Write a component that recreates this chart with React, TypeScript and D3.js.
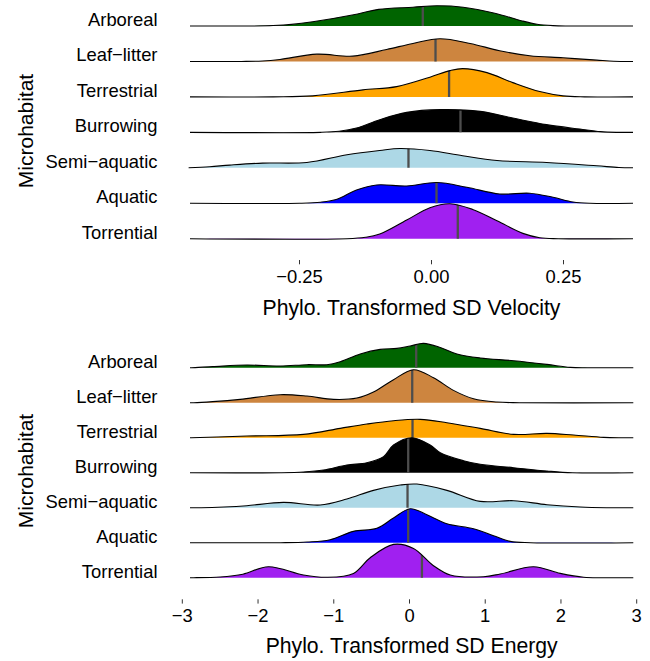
import React from "react";
import * as d3 from "d3";

const categories = ["Arboreal", "Leaf−litter", "Terrestrial", "Burrowing", "Semi−aquatic", "Aquatic", "Torrential"];
const fills = ["#006400", "#CD853F", "#FFA500", "#000000", "#ADD8E6", "#0000FF", "#A020F0"];

// Velocity ridges: [x, relative density height]
const velArboreal = [[-0.34, 0], [-0.3, 0.012], [-0.265, 0.045], [-0.225, 0.12], [-0.14, 0.34], [-0.1, 0.47], [-0.035, 0.53], [0.01, 0.57], [0.06, 0.53], [0.12, 0.36], [0.17, 0.15], [0.2, 0.05], [0.23, 0.01], [0.26, 0]];
const velLeafLitter = [[-0.36, 0], [-0.32, 0.012], [-0.287, 0.056], [-0.217, 0.206], [-0.149, 0.15], [-0.085, 0.339], [-0.035, 0.508], [0.016, 0.64], [0.073, 0.508], [0.129, 0.302], [0.186, 0.161], [0.249, 0.104], [0.313, 0.037], [0.345, 0.005], [0.36, 0]];
const velTerrestrial = [[-0.3, 0], [-0.225, 0.028], [-0.13, 0.197], [-0.066, 0.29], [-0.003, 0.556], [0.035, 0.742], [0.059, 0.798], [0.105, 0.685], [0.154, 0.403], [0.205, 0.15], [0.249, 0.028], [0.29, 0]];
const velBurrowing = [[-0.21, 0], [-0.175, 0.03], [-0.142, 0.121], [-0.098, 0.358], [-0.047, 0.564], [0.016, 0.64], [0.092, 0.592], [0.154, 0.403], [0.218, 0.217], [0.281, 0.093], [0.32, 0.02], [0.35, 0]];
const velSemiAquatic = [[-0.46, 0], [-0.42, 0.03], [-0.382, 0.076], [-0.32, 0.133], [-0.236, 0.15], [-0.16, 0.367], [-0.098, 0.488], [-0.06, 0.544], [-0.003, 0.488], [0.059, 0.339], [0.124, 0.206], [0.218, 0.15], [0.313, 0.056], [0.355, 0.01], [0.38, 0]];
const velAquatic = [[-0.25, 0], [-0.21, 0.03], [-0.179, 0.113], [-0.142, 0.375], [-0.104, 0.516], [-0.047, 0.488], [0.01, 0.584], [0.067, 0.451], [0.129, 0.262], [0.186, 0.282], [0.23, 0.169], [0.268, 0.037], [0.3, 0]];
const velTorrential = [[-0.16, 0], [-0.125, 0.04], [-0.098, 0.133], [-0.047, 0.527], [-0.003, 0.874], [0.035, 0.987], [0.078, 0.826], [0.124, 0.508], [0.173, 0.15], [0.205, 0.028], [0.24, 0]];
const velMedians = [-0.0165, 0.0076, 0.0333, 0.0549, -0.0436, 0.0095, 0.0498];
const velTicks = [-0.25, 0, 0.25];

// Energy ridges
const enArboreal = [[-2.88, 0], [-2.6, 0.03], [-2.148, 0.076], [-1.708, 0.048], [-1.355, 0.086], [-1.091, 0.086], [-0.915, 0.171], [-0.651, 0.391], [-0.387, 0.523], [-0.166, 0.551], [0.009, 0.62], [0.185, 0.694], [0.406, 0.58], [0.626, 0.391], [0.934, 0.277], [1.374, 0.2], [1.815, 0.094], [2.123, 0.01], [2.35, 0]];
const enLeafLitter = [[-2.85, 0], [-2.6, 0.03], [-2.236, 0.095], [-1.708, 0.229], [-1.355, 0.19], [-1.004, 0.095], [-0.695, 0.133], [-0.476, 0.305], [-0.211, 0.657], [0.053, 0.943], [0.317, 0.714], [0.581, 0.352], [0.845, 0.114], [1.155, 0.019], [1.45, 0]];
const enTerrestrial = [[-2.88, 0], [-2.148, 0.048], [-1.4, 0.095], [-0.915, 0.267], [-0.563, 0.39], [-0.211, 0.486], [0.141, 0.524], [0.494, 0.429], [0.934, 0.267], [1.374, 0.095], [1.815, 0.124], [2.167, 0.076], [2.563, 0.01], [2.8, 0]];
const enBurrowing = [[-1.7, 0], [-1.4, 0.02], [-1.136, 0.076], [-0.827, 0.219], [-0.563, 0.286], [-0.343, 0.457], [-0.211, 0.791], [0.032, 1.0], [0.273, 0.791], [0.406, 0.571], [0.713, 0.343], [0.934, 0.24], [1.374, 0.143], [1.815, 0.049], [2.15, 0]];
const enSemiAquatic = [[-2.75, 0], [-2.45, 0.02], [-2.148, 0.057], [-1.665, 0.152], [-1.18, 0.076], [-0.827, 0.248], [-0.476, 0.495], [-0.123, 0.648], [0.098, 0.676], [0.494, 0.495], [0.934, 0.181], [1.374, 0.2], [1.815, 0.086], [2.255, 0.019], [2.6, 0]];
const enAquatic = [[-1.7, 0], [-1.35, 0.02], [-1.048, 0.086], [-0.74, 0.324], [-0.431, 0.41], [-0.211, 0.705], [0.009, 0.971], [0.23, 0.8], [0.494, 0.543], [0.845, 0.4], [1.11, 0.2], [1.33, 0.038], [1.6, 0]];
const enTorrential = [[-2.85, 0], [-2.5, 0.02], [-2.2, 0.1], [-1.863, 0.314], [-1.4, 0.077], [-1.091, 0.012], [-0.74, 0.123], [-0.519, 0.571], [-0.211, 0.951], [0.053, 0.837], [0.317, 0.343], [0.538, 0.077], [0.978, 0.029], [1.198, 0.106], [1.638, 0.314], [1.991, 0.123], [2.299, 0.012], [2.6, 0]];
const enMedians = [0.0885, 0.036, 0.04, -0.017, -0.026, -0.017, 0.164];
const enTicks = [-3, -2, -1, 0, 1, 2, 3];

const velSeries = [velArboreal, velLeafLitter, velTerrestrial, velBurrowing, velSemiAquatic, velAquatic, velTorrential];
const enSeries = [enArboreal, enLeafLitter, enTerrestrial, enBurrowing, enSemiAquatic, enAquatic, enTorrential];

const FONT = "'Liberation Sans', Arial, Helvetica, sans-serif";

type PanelProps = {
  id: string;
  series: number[][][];
  medians: number[];
  x: d3.ScaleLinear<number, number>;
  extent: [number, number];
  rowRange: [number, number];
  ticks: number[];
  fmt: (v: number) => string;
  tickTop: number;
  tickLabelY: number;
  title: string;
  titleY: number;
  yTitleCenter: number;
};

function Panel(p: PanelProps) {
  const y = d3.scalePoint<string>().domain(categories).range(p.rowRange);
  const step = y.step();
  const curve = d3.curveCatmullRom.alpha(0.5);
  return (
    <g>
      {p.series.map((s, i) => {
        const base = y(categories[i]) as number;
        const pts: number[][] = [];
        if (s[0][0] > p.extent[0]) pts.push([p.extent[0], 0]);
        s.forEach((d) => pts.push(d));
        if (s[s.length - 1][0] < p.extent[1]) pts.push([p.extent[1], 0]);
        const hy = (d: number[]) => Math.min(base, base - d[1] * step);
        const area = d3
          .area<number[]>()
          .x((d) => p.x(d[0]))
          .y0(base)
          .y1(hy)
          .curve(curve)(pts) as string;
        const line = d3
          .line<number[]>()
          .x((d) => p.x(d[0]))
          .y(hy)
          .curve(curve)(pts) as string;
        const cid = `${p.id}-clip-${i}`;
        const mx = p.x(p.medians[i]);
        return (
          <g key={i}>
            <clipPath id={cid}>
              <path d={area} />
            </clipPath>
            <path d={area} fill={fills[i]} stroke="none" />
            <line x1={mx} x2={mx} y1={base + 1} y2={base - step * 1.3} stroke="#4D4D4D" strokeWidth={2.3} clipPath={`url(#${cid})`} />
            <path d={line} fill="none" stroke="#000" strokeWidth={1.1} />
          </g>
        );
      })}
      {categories.map((c, i) => (
        <text key={c} x={157.5} y={y(c) as number} textAnchor="end" fontSize={18.4} fontFamily={FONT} fill="#000">
          {c}
        </text>
      ))}
      <text
        transform={`translate(33.3,${p.yTitleCenter}) rotate(-90)`}
        textAnchor="middle"
        fontSize={21}
        fontFamily={FONT}
        fill="#000"
      >
        Microhabitat
      </text>
      {p.ticks.map((t) => (
        <g key={t}>
          <line x1={p.x(t)} x2={p.x(t)} y1={p.tickTop} y2={p.tickTop + 4.3} stroke="#333" strokeWidth={1} />
          <text x={p.x(t)} y={p.tickLabelY} textAnchor="middle" fontSize={18.4} fontFamily={FONT} fill="#000">
            {p.fmt(t)}
          </text>
        </g>
      ))}
      <text x={(p.x(p.extent[0]) + p.x(p.extent[1])) / 2} y={p.titleY} textAnchor="middle" fontSize={21.2} fontFamily={FONT} fill="#000">
        {p.title}
      </text>
    </g>
  );
}

export default function App() {
  const xVel = d3.scaleLinear().domain([-0.25, 0.25]).range([299.5, 563.5]);
  const xEn = d3.scaleLinear().domain([-3, 3]).range([182.3, 636.7]);
  return (
    <svg width={650} height={661} style={{ position: "absolute", left: 0, top: 0, background: "#fff" }}>
      <rect width={650} height={661} fill="#fff" />
      <Panel
        id="vel"
        series={velSeries}
        medians={velMedians}
        x={xVel}
        extent={[xVel.invert(190), xVel.invert(633)]}
        rowRange={[26, 238.7]}
        ticks={velTicks}
        fmt={d3.format(".2f")}
        tickTop={260}
        tickLabelY={282.7}
        title="Phylo. Transformed SD Velocity"
        titleY={315}
        yTitleCenter={131}
      />
      <Panel
        id="en"
        series={enSeries}
        medians={enMedians}
        x={xEn}
        extent={[xEn.invert(190), xEn.invert(633.3)]}
        rowRange={[367.7, 577.7]}
        ticks={enTicks}
        fmt={d3.format("d")}
        tickTop={599.3}
        tickLabelY={622.3}
        title="Phylo. Transformed SD Energy"
        titleY={652.7}
        yTitleCenter={471}
      />
    </svg>
  );
}
